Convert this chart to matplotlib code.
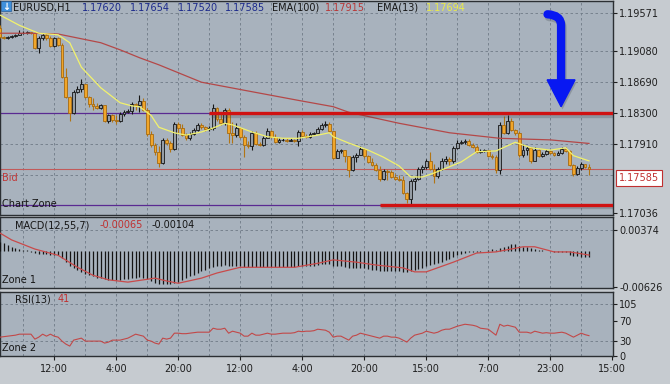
import numpy as np
import matplotlib.pyplot as plt
import matplotlib.patheffects as pe
from matplotlib.patches import Rectangle, PathPatch
from matplotlib.path import Path

## DATA (EURUSD H1, one entry per candle)

first_open = 1.1938
closes = [1.1926, 1.1925, 1.1926, 1.1927, 1.1929, 1.1931, 1.1931, 1.1932, 1.1931, 1.1912,
          1.1925, 1.1929, 1.1925, 1.1915, 1.1925, 1.1916, 1.1876, 1.1850, 1.1830, 1.1857,
          1.1860, 1.1867, 1.1850, 1.1841, 1.1839, 1.1836, 1.1840, 1.1820, 1.1827, 1.1821,
          1.1820, 1.1829, 1.1831, 1.1833, 1.1841, 1.1840, 1.1845, 1.1834, 1.1803, 1.1789,
          1.1781, 1.1767, 1.1796, 1.1792, 1.1784, 1.1816, 1.1811, 1.1802, 1.1798, 1.1803,
          1.1808, 1.1815, 1.1812, 1.1810, 1.1811, 1.1836, 1.1822, 1.1817, 1.1834, 1.1805,
          1.1802, 1.1811, 1.1800, 1.1789, 1.1788, 1.1805, 1.1791, 1.1789, 1.1798, 1.1807,
          1.1800, 1.1793, 1.1796, 1.1796, 1.1795, 1.1796, 1.1795, 1.1806, 1.1801, 1.1800,
          1.1803, 1.1805, 1.1810, 1.1815, 1.1816, 1.1807, 1.1773, 1.1782, 1.1783, 1.1776,
          1.1758, 1.1774, 1.1777, 1.1784, 1.1776, 1.1768, 1.1764, 1.1758, 1.1746, 1.1757,
          1.1755, 1.1749, 1.1746, 1.1745, 1.1729, 1.1721, 1.1744, 1.1746, 1.1759, 1.1762,
          1.1769, 1.1759, 1.1750, 1.1759, 1.1769, 1.1772, 1.1769, 1.1786, 1.1792, 1.1793,
          1.1795, 1.1789, 1.1787, 1.1781, 1.1782, 1.1783, 1.1776, 1.1774, 1.1758, 1.1815,
          1.1805, 1.1820, 1.1808, 1.1805, 1.1777, 1.1783, 1.1786, 1.1769, 1.1783, 1.1776,
          1.1778, 1.1782, 1.1779, 1.1777, 1.1779, 1.1784, 1.1782, 1.1764, 1.1753, 1.1760,
          1.1765, 1.1762, 1.17585]
highs = [1.1941, 1.1927, 1.1927, 1.1929, 1.1930, 1.1935, 1.1934, 1.1934, 1.1933, 1.1933,
         1.1927, 1.1931, 1.1931, 1.1927, 1.1926, 1.1926, 1.1919, 1.1887, 1.1852, 1.1859,
         1.1864, 1.1873, 1.1867, 1.1852, 1.1849, 1.1843, 1.1841, 1.1840, 1.1829, 1.1829,
         1.1827, 1.1831, 1.1834, 1.1835, 1.1844, 1.1843, 1.1853, 1.1849, 1.1836, 1.1807,
         1.1792, 1.1788, 1.1798, 1.1798, 1.1794, 1.1819, 1.1819, 1.1816, 1.1805, 1.1806,
         1.1811, 1.1817, 1.1817, 1.1814, 1.1814, 1.1841, 1.1838, 1.1829, 1.1836, 1.1836,
         1.1819, 1.1817, 1.1812, 1.1802, 1.1795, 1.1807, 1.1807, 1.1793, 1.1801, 1.1811,
         1.1808, 1.1803, 1.1798, 1.1798, 1.1798, 1.1798, 1.1797, 1.1808, 1.1808, 1.1803,
         1.1806, 1.1806, 1.1812, 1.1817, 1.1820, 1.1819, 1.1807, 1.1784, 1.1784, 1.1783,
         1.1776, 1.1777, 1.1779, 1.1788, 1.1786, 1.1777, 1.1773, 1.1767, 1.1763, 1.1759,
         1.1759, 1.1758, 1.1753, 1.1752, 1.1750, 1.1730, 1.1746, 1.1749, 1.1762, 1.1764,
         1.1772, 1.1781, 1.1765, 1.1762, 1.1773, 1.1776, 1.1774, 1.1788, 1.1796, 1.1796,
         1.1797, 1.1797, 1.1792, 1.1789, 1.1784, 1.1784, 1.1783, 1.1778, 1.1777, 1.1819,
         1.1826, 1.1827, 1.1824, 1.1810, 1.1807, 1.1791, 1.1788, 1.1787, 1.1787, 1.1784,
         1.1781, 1.1784, 1.1783, 1.1781, 1.1782, 1.1787, 1.1787, 1.1783, 1.1765, 1.1763,
         1.1768, 1.1765, 1.17654]
lows = [1.1925, 1.1924, 1.1924, 1.1925, 1.1926, 1.1929, 1.1930, 1.1930, 1.1930, 1.1911,
        1.1906, 1.1922, 1.1922, 1.1914, 1.1914, 1.1915, 1.1874, 1.1849, 1.1820, 1.1829,
        1.1855, 1.1857, 1.1849, 1.1838, 1.1834, 1.1835, 1.1835, 1.1819, 1.1817, 1.1819,
        1.1816, 1.1819, 1.1826, 1.1830, 1.1829, 1.1834, 1.1831, 1.1833, 1.1801, 1.1787,
        1.1777, 1.1762, 1.1765, 1.1789, 1.1781, 1.1783, 1.1805, 1.1801, 1.1796, 1.1796,
        1.1802, 1.1807, 1.1810, 1.1807, 1.1807, 1.1808, 1.1820, 1.1815, 1.1815, 1.1792,
        1.1792, 1.1800, 1.1798, 1.1774, 1.1786, 1.1783, 1.1789, 1.1788, 1.1788, 1.1798,
        1.1798, 1.1792, 1.1792, 1.1795, 1.1793, 1.1794, 1.1793, 1.1788, 1.1800, 1.1798,
        1.1798, 1.1802, 1.1805, 1.1808, 1.1812, 1.1806, 1.1772, 1.1773, 1.1779, 1.1768,
        1.1749, 1.1757, 1.1768, 1.1777, 1.1773, 1.1767, 1.1763, 1.1757, 1.1744, 1.1745,
        1.1745, 1.1748, 1.1745, 1.1744, 1.1727, 1.1716, 1.1714, 1.1733, 1.1745, 1.1754,
        1.1759, 1.1758, 1.1741, 1.1748, 1.1758, 1.1765, 1.1764, 1.1767, 1.1784, 1.1791,
        1.1791, 1.1788, 1.1786, 1.1779, 1.1779, 1.1781, 1.1774, 1.1772, 1.1754, 1.1753,
        1.1803, 1.1803, 1.1807, 1.1802, 1.1774, 1.1774, 1.1777, 1.1767, 1.1769, 1.1774,
        1.1774, 1.1777, 1.1778, 1.1776, 1.1777, 1.1778, 1.1781, 1.1763, 1.1750, 1.1752,
        1.1758, 1.1760, 1.17520]
opens = [first_open] + closes[:-1]

# moving averages (vertices)
ema100_idx = [0, 8, 15, 20, 26, 31, 36, 41, 52, 65, 77, 86, 90, 103, 116, 129, 142, 152]
ema100_val = [1.1931, 1.1931, 1.1930, 1.1925, 1.1919, 1.1910, 1.1900, 1.1891, 1.1869, 1.1857,
              1.1846, 1.1838, 1.1831, 1.1817, 1.1805, 1.1798, 1.1796, 1.17915]
ema13_idx = [0, 5, 10, 15, 18, 21, 26, 31, 34, 36, 39, 41, 45, 48, 52, 55, 58, 60, 65, 69, 73,
             77, 82, 85, 86, 90, 95, 99, 103, 106, 109, 112, 115, 119, 123, 128, 133, 137,
             142, 146, 148, 152]
ema13_val = [1.1954, 1.1941, 1.1931, 1.1929, 1.1919, 1.1888, 1.1862, 1.1843, 1.1839, 1.1838,
             1.1827, 1.1812, 1.1805, 1.1802, 1.1806, 1.1811, 1.1817, 1.1815, 1.1806, 1.1800,
             1.1798, 1.1798, 1.1802, 1.1805, 1.1800, 1.1792, 1.1783, 1.1774, 1.1763, 1.1749,
             1.1749, 1.1754, 1.1760, 1.1768, 1.1781, 1.1782, 1.1793, 1.1786, 1.1783, 1.1786,
             1.1776, 1.17694]

macd_hist = [0.0017, 0.0015, 0.0011, 0.0007, 0.0005, 0.0004, 0.0003, 0.0002, -0.0002, -0.0003,
             -0.0004, -0.0004, -0.0005, -0.0006, -0.0006, -0.0007, -0.0012, -0.0018, -0.0025, -0.0029,
             -0.0033, -0.0036, -0.0039, -0.0042, -0.0044, -0.0046, -0.0047, -0.0049, -0.0050, -0.0051,
             -0.0051, -0.0050, -0.0049, -0.0048, -0.0047, -0.0046, -0.0045, -0.0046, -0.0049, -0.0052,
             -0.0055, -0.0058, -0.0058, -0.0058, -0.0057, -0.0055, -0.0053, -0.0050, -0.0047, -0.0044,
             -0.0041, -0.0038, -0.0035, -0.0032, -0.0030, -0.0027, -0.0026, -0.0025, -0.0024, -0.0025,
             -0.0025, -0.0025, -0.0026, -0.0027, -0.0028, -0.0028, -0.0028, -0.0028, -0.0028, -0.0027,
             -0.0027, -0.0027, -0.0027, -0.0027, -0.0027, -0.0027, -0.0027, -0.0026, -0.0026, -0.0026,
             -0.0025, -0.0025, -0.0024, -0.0023, -0.0022, -0.0022, -0.0025, -0.0026, -0.0026, -0.0027,
             -0.0029, -0.0029, -0.0029, -0.0029, -0.0030, -0.0031, -0.0032, -0.0033, -0.0034, -0.0034,
             -0.0035, -0.0035, -0.0035, -0.0035, -0.0036, -0.0036, -0.0035, -0.0033, -0.0031, -0.0029,
             -0.0026, -0.0024, -0.0023, -0.0021, -0.0018, -0.0015, -0.0013, -0.0010, -0.0007, -0.0005,
             -0.0003, -0.0002, -0.0001, -0.0001, -0.0001, 0.0001, 0.0003, 0.0004, 0.0002, 0.0006,
             0.0008, 0.0010, 0.0012, 0.0013, 0.0010, 0.0008, 0.0007, 0.0005, 0.0004, 0.0003,
             0.0002, 0.0001, 0.0000, -0.0001, -0.0001, -0.0001, -0.0002, -0.0006, -0.0008, -0.0009,
             -0.0010, -0.0010, -0.00104]
macd_sig_idx = [0, 3, 9, 15, 20, 24, 28, 33, 37, 40, 43, 46, 52, 56, 62, 69, 76, 82, 86, 92,
                97, 104, 107, 110, 117, 123, 128, 135, 138, 143, 147, 152]
macd_sig_val = [0.0032, 0.0020, 0.0004, -0.0007, -0.0028, -0.0042, -0.0050, -0.0054, -0.0050, -0.0047,
                -0.0052, -0.0056, -0.0047, -0.0038, -0.0028, -0.0028, -0.0028, -0.0021, -0.0015, -0.0019,
                -0.0024, -0.0029, -0.0036, -0.0036, -0.0019, -0.0003, -0.0001, 0.0008, 0.0008, -0.0001,
                -0.0001, -0.00065]

rsi = [38, 39, 40, 41, 42, 44, 44, 44, 44, 34,
       38, 44, 40, 44, 40, 38, 30, 24, 20, 32,
       34, 36, 30, 30, 30, 30, 30, 26, 28, 32,
       32, 32, 34, 36, 40, 44, 42, 40, 32, 30,
       26, 24, 36, 34, 36, 46, 46, 45, 45, 46,
       47, 48, 48, 48, 48, 56, 54, 54, 56, 46,
       50, 48, 46, 40, 40, 46, 42, 42, 44, 46,
       44, 44, 45, 46, 46, 46, 47, 50, 49, 50,
       50, 51, 54, 53, 52, 48, 38, 40, 40, 36,
       32, 40, 42, 46, 44, 42, 40, 38, 36, 40,
       40, 38, 38, 36, 32, 28, 36, 42, 44, 46,
       50, 48, 46, 48, 52, 54, 54, 57, 60, 62,
       64, 63, 62, 60, 56, 55, 54, 48, 42, 64,
       60, 62, 60, 58, 48, 48, 48, 46, 50, 48,
       46, 47, 46, 46, 47, 48, 46, 42, 38, 42,
       46, 43, 41]

bid = 1.17585
resistance = 1.1830
support = 1.1714
res_start = 54   # candle where the drawn red resistance line begins
sup_start = 98

price_ticks = [1.19571, 1.19080, 1.18690, 1.18300, 1.17910, 1.17036]
price_grid = [1.19571, 1.19080, 1.18690, 1.18300, 1.17910, 1.17520]
macd_ticks = [0.00374, -0.00626]
rsi_ticks = [105, 70, 30, 0]
time_pos = [14, 30, 46, 62, 78, 94, 110, 126, 142, 158]
time_labels = ['12:00', '4:00', '20:00', '12:00', '4:00', '20:00', '15:00', '7:00', '23:00', '15:00']

## PLOT

W, H = 670, 384
BG = '#a8b2bd'
XMAX = 158.2
fig = plt.figure(figsize=(W / 100, H / 100), dpi=100, facecolor='#c6cbd0')
plt.rcParams['font.family'] = ['DejaVu Sans']


def fx(px):
    return px / W


def fy(py):
    return 1 - py / H


def panel(top, bottom):
    ax = fig.add_axes([0, 1 - bottom / H, 613 / W, (bottom - top) / H], facecolor=BG)
    ax.set_xlim(0, XMAX)
    for s in ax.spines.values():
        s.set_color('#2b2f33')
        s.set_linewidth(1.0)
    ax.yaxis.tick_right()
    ax.tick_params(axis='y', direction='out', length=3, width=0.8, pad=1.5,
                   labelsize=7, colors='#1e1e1e')
    ax.set_xticks(time_pos)
    ax.set_xticklabels([])
    ax.tick_params(axis='x', length=0)
    for v in range(6, 158, 8):
        ax.axvline(v, color='#6f7b87', lw=0.6, ls=(0, (3, 3)), zorder=0)
    return ax


grid_kw = dict(color='#6f7b87', lw=0.6, ls=(0, (3, 3)), zorder=0)
shadow = [pe.SimpleLineShadow(offset=(1.0, -2.0), shadow_color='#3c4248', alpha=0.25), pe.Normal()]

#%% price panel
ax1 = panel(1, 215)
ax1.set_ylim(1.17009, 1.19718)
for v in price_grid:
    ax1.axhline(v, **grid_kw)
ax1.set_yticks(price_ticks)
ax1.set_yticklabels([f'{v:.5f}' for v in price_ticks])

x = np.arange(len(closes))
o = np.array(opens)
c = np.array(closes)
h = np.array(highs)
l = np.array(lows)
up = c >= o
body = np.maximum(np.abs(c - o), 0.00004)
bottom = np.minimum(o, c)

ax1.axhline(bid, color='#c25a5a', lw=0.8, zorder=2)
ax1.axhline(resistance, color='#5a2a92', lw=0.9, zorder=2)
ax1.axhline(support, color='#5a2a92', lw=0.9, zorder=2)

ax1.vlines(x[up], l[up], h[up], color='#151515', lw=0.8, zorder=3)
ax1.vlines(x[~up], l[~up], h[~up], color='#b27514', lw=0.8, zorder=3)
ax1.bar(x[up], body[up], bottom=bottom[up], width=0.72, color='#959da5',
        edgecolor='#151515', lw=0.6, zorder=4)
ax1.bar(x[~up], body[~up], bottom=bottom[~up], width=0.72, color='#f1a62a',
        edgecolor='#a66a10', lw=0.6, zorder=4)

ax1.plot(ema100_idx, ema100_val, color='#b44848', lw=0.9, zorder=5)
ax1.plot(ema13_idx, ema13_val, color='#f2f26c', lw=0.9, zorder=5)

ax1.plot([res_start, XMAX], [resistance, resistance], color='#d01212', lw=2.4,
         solid_capstyle='butt', path_effects=shadow, zorder=6)
ax1.plot([sup_start, XMAX], [support, support], color='#d01212', lw=2.4,
         solid_capstyle='butt', path_effects=shadow, zorder=6)

# blue hand drawn arrow
shaft = Path([(141.3, 1.1955), (144.8, 1.1954), (144.8, 1.1941), (144.8, 1.1871)],
             [Path.MOVETO, Path.CURVE3, Path.CURVE3, Path.LINETO])
ax1.add_patch(PathPatch(shaft, fill=False, ec='#0818f2', lw=6, capstyle='round',
                        path_effects=shadow, zorder=7))
ax1.fill([141.2, 148.4, 144.8], [1.1872, 1.1872, 1.1838], color='#0818f2', zorder=7,
         path_effects=[pe.SimplePatchShadow(offset=(1.0, -2), shadow_rgbFace='#3c4248', alpha=0.25),
                       pe.Normal()])

ax1.annotate(f'{bid:.5f}', xy=(1.0, bid), xycoords=('axes fraction', 'data'),
             xytext=(4, -6), textcoords='offset points', ha='left', va='center',
             fontsize=7, color='#c03030', annotation_clip=False,
             bbox=dict(boxstyle='square,pad=0.3', fc='white', ec='#c03030', lw=0.8))

#%% MACD panel
ax2 = panel(217, 288)
ax2.set_ylim(-0.00643, 0.00602)
ax2.axhline(macd_ticks[0], **grid_kw)
ax2.vlines(x, 0, macd_hist, color='#141414', lw=0.9, zorder=3)
ax2.plot(macd_sig_idx, macd_sig_val, color='#c94a4a', lw=0.9, zorder=4)
ax2.set_yticks(macd_ticks)
ax2.set_yticklabels([f'{v:.5f}' for v in macd_ticks])

#%% RSI panel
ax3 = panel(292, 356)
ax3.set_ylim(0, 129)
for v in (105, 30):
    ax3.axhline(v, **grid_kw)
ax3.plot(x, rsi, color='#c24848', lw=0.8, zorder=3)
ax3.set_yticks(rsi_ticks)
ax3.set_yticklabels([str(v) for v in rsi_ticks])
ax3.set_xticklabels(time_labels)
ax3.tick_params(axis='x', length=3, width=0.8, direction='out', pad=2.5,
                labelsize=7, colors='#1e1e1e')

#%% labels
fs = 7
fig.add_artist(Rectangle((fx(1), fy(11)), 10 / W, 10 / H, transform=fig.transFigure,
                         fc='#3f90dc', ec='#2b5f98', lw=0.5))
fig.text(fx(6), fy(6.5), '\u2193', color='white', fontsize=7, fontweight='bold',
         ha='center', va='center')
fig.text(fx(13), fy(8), 'EURUSD,H1', fontsize=fs, color='#151515', va='center')
for px, v in zip([82, 130, 178, 225], [opens[-1], highs[-1], lows[-1], closes[-1]]):
    fig.text(fx(px), fy(8), f'{v:.5f}', fontsize=fs, color='#1c2a8c', va='center')
fig.text(fx(272), fy(8), 'EMA(100)', fontsize=fs, color='#151515', va='center')
fig.text(fx(325), fy(8), f'{ema100_val[-1]:.5f}', fontsize=fs, color='#b83838', va='center')
fig.text(fx(377), fy(8), 'EMA(13)', fontsize=fs, color='#151515', va='center')
fig.text(fx(426), fy(8), f'{ema13_val[-1]:.5f}', fontsize=fs, color='#eaea4a', va='center')

fig.text(fx(2), fy(178), 'Bid', fontsize=fs, color='#c03838', va='center')
fig.text(fx(2), fy(204), 'Chart Zone', fontsize=fs, color='#151515', va='center')

fig.text(fx(15), fy(225), 'MACD(12,55,7)', fontsize=fs, color='#151515', va='center')
fig.text(fx(100), fy(225), f'{macd_sig_val[-1]:.5f}', fontsize=fs, color='#c03030', va='center')
fig.text(fx(152), fy(225), f'{macd_hist[-1]:.5f}', fontsize=fs, color='#151515', va='center')
fig.text(fx(2), fy(280), 'Zone 1', fontsize=fs, color='#151515', va='center')

fig.text(fx(15), fy(299), 'RSI(13)', fontsize=fs, color='#151515', va='center')
fig.text(fx(58), fy(299), str(rsi[-1]), fontsize=fs, color='#c03030', va='center')
fig.text(fx(2), fy(348), 'Zone 2', fontsize=fs, color='#151515', va='center')

fig.savefig('out.png', dpi=100, facecolor=fig.get_facecolor())
